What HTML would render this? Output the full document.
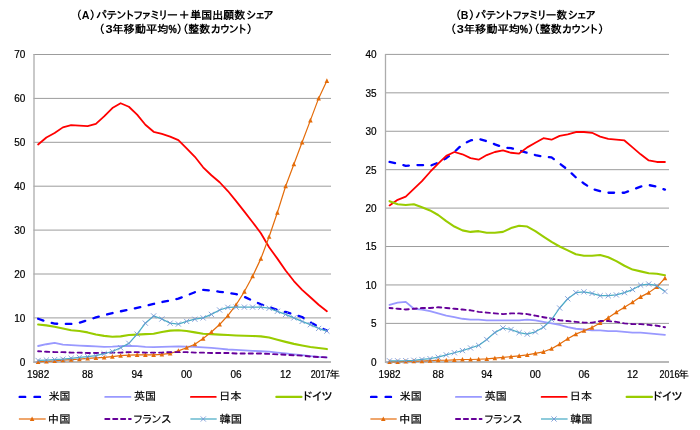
<!DOCTYPE html>
<html lang="ja"><head><meta charset="utf-8"><title>パテントファミリー数シェア</title>
<style>
html,body{margin:0;padding:0;background:#fff;}
body{width:700px;height:430px;overflow:hidden;}
svg{display:block;}
text{font-family:"Liberation Sans","IPAPGothic","IPAGothic","Noto Sans CJK JP",sans-serif;fill:#000;stroke:#000;stroke-width:0.2px;}
.n{font-weight:normal;}
.b{font-weight:bold;stroke:none;}
.p{stroke:#000;stroke-width:0.35px;}
.g{stroke:#9c9c9c;stroke-width:1;fill:none;}
.gv{stroke:#acacac;stroke-width:1.3;fill:none;}
.g0{stroke:#b8b8b8;stroke-width:1.8;fill:none;}
</style></head><body>
<svg width="700" height="430" viewBox="0 0 700 430">
<rect width="700" height="430" fill="#fff"/>
<line x1="33.5" y1="362" x2="331" y2="362" class="g0"/>
<text x="25.4" y="365.7" class="n" font-size="10" text-anchor="end">0</text>
<line x1="33.5" y1="317.9" x2="331" y2="317.9" class="g"/>
<text x="25.4" y="321.8" class="n" font-size="10" text-anchor="end">10</text>
<line x1="33.5" y1="274" x2="331" y2="274" class="g"/>
<text x="25.4" y="277.9" class="n" font-size="10" text-anchor="end">20</text>
<line x1="33.5" y1="230.1" x2="331" y2="230.1" class="g"/>
<text x="25.4" y="234" class="n" font-size="10" text-anchor="end">30</text>
<line x1="33.5" y1="186.2" x2="331" y2="186.2" class="g"/>
<text x="25.4" y="190.1" class="n" font-size="10" text-anchor="end">40</text>
<line x1="33.5" y1="142.3" x2="331" y2="142.3" class="g"/>
<text x="25.4" y="146.2" class="n" font-size="10" text-anchor="end">50</text>
<line x1="33.5" y1="98.4" x2="331" y2="98.4" class="g"/>
<text x="25.4" y="102.3" class="n" font-size="10" text-anchor="end">60</text>
<line x1="33.5" y1="54.5" x2="331" y2="54.5" class="g"/>
<text x="25.4" y="58.4" class="n" font-size="10" text-anchor="end">70</text>
<line x1="34" y1="54" x2="34" y2="362.9" class="gv"/>
<path d="M38.12 318.78L46.38 321.63L54.62 323.61L62.88 324.05L71.12 323.83L79.38 322.73L87.62 320.1L95.88 317.46L104.12 315.27L112.38 313.07L120.62 311.31L128.88 309.78L137.12 307.8L145.38 306.05L153.62 303.85L161.88 302.1L170.12 300.34L178.38 298.58L186.62 295.51L194.88 292.22L203.12 289.8L211.38 290.68L219.62 291.78L227.88 292.88L236.12 294.19L244.38 296.83L252.62 300.78L260.88 304.29L269.12 306.93L277.38 310L285.62 311.97L293.88 314.39L302.12 317.02L310.38 322.29L318.62 326.68L326.88 330.63" fill="none" stroke="#0000ff" style="stroke-width:2.3;stroke-dasharray:5.6 8.6;stroke-dashoffset:0;stroke-linecap:round" stroke-linejoin="round"/>
<path d="M38.12 346L46.38 344.24L54.62 342.92L62.88 344.68L71.12 345.12L79.38 345.56L87.62 346L95.88 346.44L104.12 346.79L112.38 346.65L120.62 346.22L128.88 345.78L137.12 346.22L145.38 346.79L153.62 347.14L161.88 346.87L170.12 346.57L178.38 346.35L186.62 346.57L194.88 346.96L203.12 347.4L211.38 347.97L219.62 348.63L227.88 349.51L236.12 349.95L244.38 350.39L252.62 350.82L260.88 351.26L269.12 351.7L277.38 352.58L285.62 353.46L293.88 354.34L302.12 355.22L310.38 356.09L318.62 356.97L326.88 357.41" fill="none" stroke="#9999ff" style="stroke-width:1.8;stroke-linecap:round" stroke-linejoin="round"/>
<path d="M38.12 144.5L46.38 137.47L54.62 133.08L62.88 127.37L71.12 125.18L79.38 125.62L87.62 126.06L95.88 123.86L104.12 116.4L112.38 108.06L120.62 103.23L128.88 106.74L137.12 114.64L145.38 124.74L153.62 131.76L161.88 133.96L170.12 136.59L178.38 140.11L186.62 148.45L194.88 156.79L203.12 167.32L211.38 175.23L219.62 182.25L227.88 191.03L236.12 201.13L244.38 211.66L252.62 222.2L260.88 233.17L269.12 247.22L277.38 258.63L285.62 270.49L293.88 281.02L302.12 289.8L310.38 297.27L318.62 304.73L326.88 311.31" fill="none" stroke="#ff0000" style="stroke-width:1.8;stroke-linecap:round" stroke-linejoin="round"/>
<path d="M38.12 324.49L46.38 325.36L54.62 326.68L62.88 328.44L71.12 330.19L79.38 331.07L87.62 332.39L95.88 334.58L104.12 335.9L112.38 336.78L120.62 336.34L128.88 335.02L137.12 334.58L145.38 334.14L153.62 333.7L161.88 331.95L170.12 330.63L178.38 330.19L186.62 331.07L194.88 332.39L203.12 333.7L211.38 334.14L219.62 334.58L227.88 335.02L236.12 335.46L244.38 335.81L252.62 335.99L260.88 336.38L269.12 337.57L277.38 339.72L285.62 341.87L293.88 343.89L302.12 345.47L310.38 346.92L318.62 348.06L326.88 349.07" fill="none" stroke="#99cc00" style="stroke-width:2.1;stroke-linecap:round" stroke-linejoin="round"/>
<path d="M38.12 361.8L46.38 361.36L54.62 360.92L62.88 360.04L71.12 359.61L79.38 359.17L87.62 358.29L95.88 357.85L104.12 357.41L112.38 356.53L120.62 355.65L128.88 355.22L137.12 354.78L145.38 354.78L153.62 354.78L161.88 354.34L170.12 353.46L178.38 350.82L186.62 347.75L194.88 344.24L203.12 338.53L211.38 331.95L219.62 324.49L227.88 315.71L236.12 304.73L244.38 291.56L252.62 276.2L260.88 258.63L269.12 236.69L277.38 212.54L285.62 186.2L293.88 164.25L302.12 142.3L310.38 120.35L318.62 98.4L326.88 80.84" fill="none" stroke="#e46c0a" style="stroke-width:1.2" stroke-linejoin="round"/>
<g fill="#e46c0a" stroke="none"><path d="M38.12 359.3L40.42 363.9L35.83 363.9Z"/><path d="M46.38 358.86L48.67 363.46L44.08 363.46Z"/><path d="M54.62 358.42L56.92 363.02L52.33 363.02Z"/><path d="M62.88 357.54L65.17 362.14L60.58 362.14Z"/><path d="M71.12 357.11L73.42 361.71L68.83 361.71Z"/><path d="M79.38 356.67L81.67 361.27L77.08 361.27Z"/><path d="M87.62 355.79L89.92 360.39L85.33 360.39Z"/><path d="M95.88 355.35L98.17 359.95L93.58 359.95Z"/><path d="M104.12 354.91L106.42 359.51L101.83 359.51Z"/><path d="M112.38 354.03L114.67 358.63L110.08 358.63Z"/><path d="M120.62 353.15L122.92 357.75L118.33 357.75Z"/><path d="M128.88 352.72L131.18 357.32L126.58 357.32Z"/><path d="M137.12 352.28L139.43 356.88L134.82 356.88Z"/><path d="M145.38 352.28L147.68 356.88L143.07 356.88Z"/><path d="M153.62 352.28L155.93 356.88L151.32 356.88Z"/><path d="M161.88 351.84L164.18 356.44L159.57 356.44Z"/><path d="M170.12 350.96L172.43 355.56L167.82 355.56Z"/><path d="M178.38 348.32L180.68 352.93L176.07 352.93Z"/><path d="M186.62 345.25L188.93 349.85L184.32 349.85Z"/><path d="M194.88 341.74L197.18 346.34L192.57 346.34Z"/><path d="M203.12 336.03L205.43 340.63L200.82 340.63Z"/><path d="M211.38 329.45L213.68 334.05L209.07 334.05Z"/><path d="M219.62 321.99L221.93 326.59L217.32 326.59Z"/><path d="M227.88 313.21L230.18 317.81L225.57 317.81Z"/><path d="M236.12 302.23L238.43 306.83L233.82 306.83Z"/><path d="M244.38 289.06L246.68 293.66L242.07 293.66Z"/><path d="M252.62 273.7L254.93 278.3L250.32 278.3Z"/><path d="M260.88 256.13L263.18 260.74L258.57 260.74Z"/><path d="M269.12 234.19L271.43 238.78L266.82 238.78Z"/><path d="M277.38 210.04L279.68 214.64L275.07 214.64Z"/><path d="M285.62 183.7L287.93 188.3L283.32 188.3Z"/><path d="M293.88 161.75L296.18 166.35L291.57 166.35Z"/><path d="M302.12 139.8L304.43 144.4L299.82 144.4Z"/><path d="M310.38 117.85L312.68 122.45L308.07 122.45Z"/><path d="M318.62 95.9L320.93 100.5L316.32 100.5Z"/><path d="M326.88 78.34L329.18 82.94L324.57 82.94Z"/></g>
<path d="M38.12 351.26L46.38 351.7L54.62 352.14L62.88 352.14L71.12 352.58L79.38 352.58L87.62 353.02L95.88 353.02L104.12 353.02L112.38 352.58L120.62 352.58L128.88 352.14L137.12 352.14L145.38 352.58L153.62 352.58L161.88 352.58L170.12 352.14L178.38 352.14L186.62 352.14L194.88 352.58L203.12 352.58L211.38 353.02L219.62 353.02L227.88 353.02L236.12 353.46L244.38 353.46L252.62 353.46L260.88 353.46L269.12 353.9L277.38 354.34L285.62 354.78L293.88 355.22L302.12 355.65L310.38 356.53L318.62 356.97L326.88 357.41" fill="none" stroke="#660099" style="stroke-width:1.9;stroke-dasharray:4.2 3.95;stroke-dashoffset:1.2;stroke-linecap:round" stroke-linejoin="round"/>
<path d="M38.12 360.48L46.38 360.04L54.62 359.61L62.88 359.17L71.12 358.29L79.38 357.41L87.62 356.53L95.88 355.65L104.12 353.68L112.38 351.48L120.62 347.75L128.88 343.36L137.12 334.14L145.38 323.17L153.62 315.92L161.88 319L170.12 323.17L178.38 324.05L186.62 321.41L194.88 319.22L203.12 317.9L211.38 314.39L219.62 310L227.88 307.36L236.12 307.14L244.38 307.14L252.62 307.14L260.88 307.14L269.12 308.24L277.38 311.31L285.62 314.39L293.88 317.9L302.12 321.41L310.38 324.7L318.62 328.44L326.88 331.07" fill="none" stroke="#4bacc6" style="stroke-width:1.25" stroke-linejoin="round"/>
<g fill="none" stroke="#7494d4" stroke-width="0.85"><path d="M35.52 357.88L40.73 363.08M35.52 363.08L40.73 357.88"/><path d="M43.77 357.44L48.98 362.64M43.77 362.64L48.98 357.44"/><path d="M52.02 357L57.23 362.21M52.02 362.21L57.23 357"/><path d="M60.27 356.57L65.47 361.77M60.27 361.77L65.47 356.57"/><path d="M68.53 355.69L73.72 360.89M68.53 360.89L73.72 355.69"/><path d="M76.78 354.81L81.97 360.01M76.78 360.01L81.97 354.81"/><path d="M85.03 353.93L90.22 359.13M85.03 359.13L90.22 353.93"/><path d="M93.28 353.05L98.47 358.25M93.28 358.25L98.47 353.05"/><path d="M101.53 351.08L106.72 356.28M101.53 356.28L106.72 351.08"/><path d="M109.78 348.88L114.97 354.08M109.78 354.08L114.97 348.88"/><path d="M118.03 345.15L123.22 350.35M118.03 350.35L123.22 345.15"/><path d="M126.28 340.76L131.47 345.96M126.28 345.96L131.47 340.76"/><path d="M134.53 331.54L139.72 336.74M134.53 336.74L139.72 331.54"/><path d="M142.78 320.57L147.97 325.77M142.78 325.77L147.97 320.57"/><path d="M151.03 313.32L156.22 318.52M151.03 318.52L156.22 313.32"/><path d="M159.28 316.4L164.47 321.6M159.28 321.6L164.47 316.4"/><path d="M167.53 320.57L172.72 325.77M167.53 325.77L172.72 320.57"/><path d="M175.78 321.45L180.97 326.65M175.78 326.65L180.97 321.45"/><path d="M184.03 318.81L189.22 324.01M184.03 324.01L189.22 318.81"/><path d="M192.28 316.62L197.47 321.82M192.28 321.82L197.47 316.62"/><path d="M200.53 315.3L205.72 320.5M200.53 320.5L205.72 315.3"/><path d="M208.78 311.79L213.97 316.99M208.78 316.99L213.97 311.79"/><path d="M217.03 307.4L222.22 312.6M217.03 312.6L222.22 307.4"/><path d="M225.28 304.76L230.47 309.96M225.28 309.96L230.47 304.76"/><path d="M233.53 304.54L238.72 309.74M233.53 309.74L238.72 304.54"/><path d="M241.78 304.54L246.97 309.74M241.78 309.74L246.97 304.54"/><path d="M250.03 304.54L255.22 309.74M250.03 309.74L255.22 304.54"/><path d="M258.27 304.54L263.48 309.74M258.27 309.74L263.48 304.54"/><path d="M266.52 305.64L271.73 310.84M266.52 310.84L271.73 305.64"/><path d="M274.77 308.71L279.98 313.92M274.77 313.92L279.98 308.71"/><path d="M283.02 311.79L288.23 316.99M283.02 316.99L288.23 311.79"/><path d="M291.27 315.3L296.48 320.5M291.27 320.5L296.48 315.3"/><path d="M299.52 318.81L304.73 324.01M299.52 324.01L304.73 318.81"/><path d="M307.77 322.1L312.98 327.3M307.77 327.3L312.98 322.1"/><path d="M316.02 325.84L321.23 331.04M316.02 331.04L321.23 325.84"/><path d="M324.27 328.47L329.48 333.67M324.27 333.67L329.48 328.47"/></g>
<text x="38.12" y="378" class="n" font-size="10" text-anchor="middle">1982</text>
<text x="87.62" y="378" class="n" font-size="10" text-anchor="middle">88</text>
<text x="137.12" y="378" class="n" font-size="10" text-anchor="middle">94</text>
<text x="186.62" y="378" class="n" font-size="10" text-anchor="middle">00</text>
<text x="236.12" y="378" class="n" font-size="10" text-anchor="middle">06</text>
<text x="285.62" y="378" class="n" font-size="10" text-anchor="middle">12</text>
<text><tspan x="310.66" y="378" class="n" font-size="10" textLength="19.79" lengthAdjust="spacingAndGlyphs">2017</tspan><tspan x="329.53" y="378.4" class="n" font-size="10" textLength="10.29" lengthAdjust="spacingAndGlyphs">年</tspan></text>
<line x1="385" y1="362" x2="669" y2="362" class="g0"/>
<text x="376.5" y="365.7" class="n" font-size="10" text-anchor="end">0</text>
<line x1="385" y1="323.38" x2="669" y2="323.38" class="g"/>
<text x="376.5" y="327.27" class="n" font-size="10" text-anchor="end">5</text>
<line x1="385" y1="284.95" x2="669" y2="284.95" class="g"/>
<text x="376.5" y="288.85" class="n" font-size="10" text-anchor="end">10</text>
<line x1="385" y1="246.53" x2="669" y2="246.53" class="g"/>
<text x="376.5" y="250.43" class="n" font-size="10" text-anchor="end">15</text>
<line x1="385" y1="208.1" x2="669" y2="208.1" class="g"/>
<text x="376.5" y="212" class="n" font-size="10" text-anchor="end">20</text>
<line x1="385" y1="169.68" x2="669" y2="169.68" class="g"/>
<text x="376.5" y="173.58" class="n" font-size="10" text-anchor="end">25</text>
<line x1="385" y1="131.25" x2="669" y2="131.25" class="g"/>
<text x="376.5" y="135.15" class="n" font-size="10" text-anchor="end">30</text>
<line x1="385" y1="92.83" x2="669" y2="92.83" class="g"/>
<text x="376.5" y="96.73" class="n" font-size="10" text-anchor="end">35</text>
<line x1="385" y1="54.4" x2="669" y2="54.4" class="g"/>
<text x="376.5" y="58.3" class="n" font-size="10" text-anchor="end">40</text>
<line x1="385.5" y1="53.9" x2="385.5" y2="362.9" class="gv"/>
<path d="M389.55 161.99L397.65 163.53L405.75 165.83L413.85 165.06L421.95 165.06L430.05 165.83L438.15 162.76L446.25 158.15L454.35 152L462.45 144.31L470.55 140.47L478.65 138.94L486.75 141.24L494.85 144.31L502.95 147.39L511.05 148.16L519.15 150.46L527.25 152.77L535.35 155.07L543.45 156.61L551.55 157.38L559.65 163.53L567.75 169.68L575.85 177.36L583.95 183.51L592.05 188.89L600.15 191.19L608.25 192.73L616.35 192.73L624.45 192.73L632.55 189.66L640.65 186.58L648.75 185.05L656.85 186.58L664.95 189.66" fill="none" stroke="#0000ff" style="stroke-width:2.3;stroke-dasharray:5.6 8.6;stroke-dashoffset:0;stroke-linecap:round" stroke-linejoin="round"/>
<path d="M389.55 304.93L397.65 302.63L405.75 301.86L413.85 308.77L421.95 309.54L430.05 311.08L438.15 313.38L446.25 315.69L454.35 317.23L462.45 318.76L470.55 319.53L478.65 319.53L486.75 320.3L494.85 320.3L502.95 320.3L511.05 320.3L519.15 320.3L527.25 319.53L535.35 320.3L543.45 321.84L551.55 323.38L559.65 324.91L567.75 327.22L575.85 328.75L583.95 329.52L592.05 330.29L600.15 330.29L608.25 331.06L616.35 331.06L624.45 331.83L632.55 332.6L640.65 332.6L648.75 333.37L656.85 334.13L664.95 334.9" fill="none" stroke="#9999ff" style="stroke-width:1.8;stroke-linecap:round" stroke-linejoin="round"/>
<path d="M389.55 205.41L397.65 199.8L405.75 196.57L413.85 188.89L421.95 181.2L430.05 171.98L438.15 163.53L446.25 155.84L454.35 152L462.45 154.31L470.55 158.15L478.65 159.68L486.75 155.07L494.85 152L502.95 150.46L511.05 152.77L519.15 153.54L527.25 147.39L535.35 142.78L543.45 138.17L551.55 139.7L559.65 135.86L567.75 134.32L575.85 132.02L583.95 132.02L592.05 132.79L600.15 136.63L608.25 138.94L616.35 139.7L624.45 140.47L632.55 147.39L640.65 154.31L648.75 160.45L656.85 161.99L664.95 161.99" fill="none" stroke="#ff0000" style="stroke-width:1.8;stroke-linecap:round" stroke-linejoin="round"/>
<path d="M389.55 201.18L397.65 204.26L405.75 205.03L413.85 204.26L421.95 207.33L430.05 210.41L438.15 215.02L446.25 221.16L454.35 226.54L462.45 230.39L470.55 231.92L478.65 231.16L486.75 232.69L494.85 232.69L502.95 231.92L511.05 228.08L519.15 225.78L527.25 226.54L535.35 231.16L543.45 236.53L551.55 241.91L559.65 246.53L567.75 250.37L575.85 254.21L583.95 255.75L592.05 255.75L600.15 254.98L608.25 257.28L616.35 261.13L624.45 265.74L632.55 269.58L640.65 271.35L648.75 273.19L656.85 273.81L664.95 275.19" fill="none" stroke="#99cc00" style="stroke-width:2.1;stroke-linecap:round" stroke-linejoin="round"/>
<path d="M389.55 361.8L397.65 361.8L405.75 361.42L413.85 361.03L421.95 361.03L430.05 360.65L438.15 360.26L446.25 360.26L454.35 359.88L462.45 359.49L470.55 359.49L478.65 359.26L486.75 358.88L494.85 358.19L502.95 357.42L511.05 356.65L519.15 355.81L527.25 354.88L535.35 353.35L543.45 351.81L551.55 348.74L559.65 344.12L567.75 338.75L575.85 334.13L583.95 330.68L592.05 327.6L600.15 322.99L608.25 317.84L616.35 312.23L624.45 307.24L632.55 302.24L640.65 296.86L648.75 292.63L656.85 287.02L664.95 278.03" fill="none" stroke="#e46c0a" style="stroke-width:1.2" stroke-linejoin="round"/>
<g fill="#e46c0a" stroke="none"><path d="M389.55 359.3L391.85 363.9L387.25 363.9Z"/><path d="M397.65 359.3L399.95 363.9L395.35 363.9Z"/><path d="M405.75 358.92L408.05 363.52L403.45 363.52Z"/><path d="M413.85 358.53L416.15 363.13L411.55 363.13Z"/><path d="M421.95 358.53L424.25 363.13L419.65 363.13Z"/><path d="M430.05 358.15L432.35 362.75L427.75 362.75Z"/><path d="M438.15 357.76L440.45 362.36L435.85 362.36Z"/><path d="M446.25 357.76L448.55 362.36L443.95 362.36Z"/><path d="M454.35 357.38L456.65 361.98L452.05 361.98Z"/><path d="M462.45 356.99L464.75 361.59L460.15 361.59Z"/><path d="M470.55 356.99L472.85 361.59L468.25 361.59Z"/><path d="M478.65 356.76L480.95 361.36L476.35 361.36Z"/><path d="M486.75 356.38L489.05 360.98L484.45 360.98Z"/><path d="M494.85 355.69L497.15 360.29L492.55 360.29Z"/><path d="M502.95 354.92L505.25 359.52L500.65 359.52Z"/><path d="M511.05 354.15L513.35 358.75L508.75 358.75Z"/><path d="M519.15 353.31L521.45 357.91L516.85 357.91Z"/><path d="M527.25 352.38L529.55 356.98L524.95 356.98Z"/><path d="M535.35 350.85L537.65 355.45L533.05 355.45Z"/><path d="M543.45 349.31L545.75 353.91L541.15 353.91Z"/><path d="M551.55 346.24L553.85 350.84L549.25 350.84Z"/><path d="M559.65 341.62L561.95 346.22L557.35 346.22Z"/><path d="M567.75 336.25L570.05 340.85L565.45 340.85Z"/><path d="M575.85 331.63L578.15 336.23L573.55 336.23Z"/><path d="M583.95 328.18L586.25 332.78L581.65 332.78Z"/><path d="M592.05 325.1L594.35 329.7L589.75 329.7Z"/><path d="M600.15 320.49L602.45 325.09L597.85 325.09Z"/><path d="M608.25 315.34L610.55 319.94L605.95 319.94Z"/><path d="M616.35 309.73L618.65 314.33L614.05 314.33Z"/><path d="M624.45 304.74L626.75 309.34L622.15 309.34Z"/><path d="M632.55 299.74L634.85 304.34L630.25 304.34Z"/><path d="M640.65 294.36L642.95 298.96L638.35 298.96Z"/><path d="M648.75 290.13L651.05 294.74L646.45 294.74Z"/><path d="M656.85 284.52L659.15 289.12L654.55 289.12Z"/><path d="M664.95 275.53L667.25 280.13L662.65 280.13Z"/></g>
<path d="M389.55 308L397.65 308.77L405.75 309.54L413.85 308.77L421.95 308L430.05 308L438.15 307.24L446.25 308L454.35 308.77L462.45 309.54L470.55 310.31L478.65 311.85L486.75 312.62L494.85 313.38L502.95 314.15L511.05 313.38L519.15 313.38L527.25 314.15L535.35 315.69L543.45 317.23L551.55 318.76L559.65 320.3L567.75 321.07L575.85 321.84L583.95 322.61L592.05 322.61L600.15 321.07L608.25 321.07L616.35 321.84L624.45 323.38L632.55 324.14L640.65 324.14L648.75 324.91L656.85 325.68L664.95 327.22" fill="none" stroke="#660099" style="stroke-width:1.9;stroke-dasharray:4.2 3.95;stroke-dashoffset:1.2;stroke-linecap:round" stroke-linejoin="round"/>
<path d="M389.55 360.8L397.65 360.8L405.75 360.65L413.85 360.26L421.95 359.49L430.05 358.65L438.15 357.19L446.25 354.88L454.35 352.73L462.45 350.58L470.55 347.97L478.65 345.43L486.75 339.51L494.85 332.6L502.95 327.99L511.05 329.52L519.15 332.6L527.25 334.13L535.35 331.83L543.45 327.22L551.55 319.53L559.65 308L567.75 298.78L575.85 292.63L583.95 291.87L592.05 293.4L600.15 295.71L608.25 295.71L616.35 294.94L624.45 292.63L632.55 289.56L640.65 285.18L648.75 284.03L656.85 285.72L664.95 291.48" fill="none" stroke="#4bacc6" style="stroke-width:1.25" stroke-linejoin="round"/>
<g fill="none" stroke="#7494d4" stroke-width="0.85"><path d="M386.95 358.2L392.15 363.4M386.95 363.4L392.15 358.2"/><path d="M395.05 358.2L400.25 363.4M395.05 363.4L400.25 358.2"/><path d="M403.15 358.05L408.35 363.25M403.15 363.25L408.35 358.05"/><path d="M411.25 357.66L416.45 362.86M411.25 362.86L416.45 357.66"/><path d="M419.35 356.89L424.55 362.09M419.35 362.09L424.55 356.89"/><path d="M427.45 356.05L432.65 361.25M427.45 361.25L432.65 356.05"/><path d="M435.55 354.59L440.75 359.79M435.55 359.79L440.75 354.59"/><path d="M443.65 352.28L448.85 357.48M443.65 357.48L448.85 352.28"/><path d="M451.75 350.13L456.95 355.33M451.75 355.33L456.95 350.13"/><path d="M459.85 347.98L465.05 353.18M459.85 353.18L465.05 347.98"/><path d="M467.95 345.37L473.15 350.57M467.95 350.57L473.15 345.37"/><path d="M476.05 342.83L481.25 348.03M476.05 348.03L481.25 342.83"/><path d="M484.15 336.91L489.35 342.11M484.15 342.11L489.35 336.91"/><path d="M492.25 330L497.45 335.2M492.25 335.2L497.45 330"/><path d="M500.35 325.39L505.55 330.59M500.35 330.59L505.55 325.39"/><path d="M508.45 326.92L513.65 332.12M508.45 332.12L513.65 326.92"/><path d="M516.55 330L521.75 335.2M516.55 335.2L521.75 330"/><path d="M524.65 331.53L529.85 336.73M524.65 336.73L529.85 331.53"/><path d="M532.75 329.23L537.95 334.43M532.75 334.43L537.95 329.23"/><path d="M540.85 324.62L546.05 329.82M540.85 329.82L546.05 324.62"/><path d="M548.95 316.93L554.15 322.13M548.95 322.13L554.15 316.93"/><path d="M557.05 305.4L562.25 310.61M557.05 310.61L562.25 305.4"/><path d="M565.15 296.18L570.35 301.38M565.15 301.38L570.35 296.18"/><path d="M573.25 290.03L578.45 295.24M573.25 295.24L578.45 290.03"/><path d="M581.35 289.27L586.55 294.47M581.35 294.47L586.55 289.27"/><path d="M589.45 290.8L594.65 296M589.45 296L594.65 290.8"/><path d="M597.55 293.11L602.75 298.31M597.55 298.31L602.75 293.11"/><path d="M605.65 293.11L610.85 298.31M605.65 298.31L610.85 293.11"/><path d="M613.75 292.34L618.95 297.54M613.75 297.54L618.95 292.34"/><path d="M621.85 290.03L627.05 295.24M621.85 295.24L627.05 290.03"/><path d="M629.95 286.96L635.15 292.16M629.95 292.16L635.15 286.96"/><path d="M638.05 282.58L643.25 287.78M638.05 287.78L643.25 282.58"/><path d="M646.15 281.43L651.35 286.63M646.15 286.63L651.35 281.43"/><path d="M654.25 283.12L659.45 288.32M654.25 288.32L659.45 283.12"/><path d="M662.35 288.88L667.55 294.08M662.35 294.08L667.55 288.88"/></g>
<text x="389.55" y="378" class="n" font-size="10" text-anchor="middle">1982</text>
<text x="438.15" y="378" class="n" font-size="10" text-anchor="middle">88</text>
<text x="486.75" y="378" class="n" font-size="10" text-anchor="middle">94</text>
<text x="535.35" y="378" class="n" font-size="10" text-anchor="middle">00</text>
<text x="583.95" y="378" class="n" font-size="10" text-anchor="middle">06</text>
<text x="632.55" y="378" class="n" font-size="10" text-anchor="middle">12</text>
<text><tspan x="659.56" y="378" class="n" font-size="10" textLength="19.79" lengthAdjust="spacingAndGlyphs">2016</tspan><tspan x="678.43" y="378.4" class="n" font-size="10" textLength="10.29" lengthAdjust="spacingAndGlyphs">年</tspan></text>
<text><tspan x="76.03" y="18.9" class="b" font-size="11" textLength="5.66" lengthAdjust="spacingAndGlyphs">（</tspan><tspan x="81.86" y="18.9" class="b" font-size="11" textLength="7.76" lengthAdjust="spacingAndGlyphs">A</tspan><tspan x="89.63" y="18.9" class="b" font-size="11" textLength="6.02" lengthAdjust="spacingAndGlyphs">）</tspan><tspan x="96.15" y="18.9" class="b" font-size="11" textLength="81.3" lengthAdjust="spacingAndGlyphs">パテントファミリー</tspan><tspan x="179.48" y="18.9" class="b" font-size="11" textLength="9.37" lengthAdjust="spacingAndGlyphs">＋</tspan><tspan x="190.33" y="18.9" class="b" font-size="11" textLength="54.8" lengthAdjust="spacingAndGlyphs">単国出願数</tspan><tspan x="246.62" y="18.9" class="b" font-size="11" textLength="26.69" lengthAdjust="spacingAndGlyphs">シェア</tspan></text>
<text><tspan x="98.78" y="33.1" class="b" font-size="11" textLength="5.82" lengthAdjust="spacingAndGlyphs">（</tspan><tspan x="105.41" y="33.1" class="b" font-size="11" textLength="7.13" lengthAdjust="spacingAndGlyphs">3</tspan><tspan x="112.39" y="33.1" class="b" font-size="11" textLength="56.07" lengthAdjust="spacingAndGlyphs">年移動平均</tspan><tspan x="168.39" y="33.1" class="b p" font-size="11" textLength="8.25" lengthAdjust="spacingAndGlyphs">%</tspan><tspan x="176.73" y="33.1" class="b" font-size="11" textLength="6.02" lengthAdjust="spacingAndGlyphs">）</tspan><tspan x="182.38" y="33.1" class="b" font-size="11" textLength="5.82" lengthAdjust="spacingAndGlyphs">（</tspan><tspan x="188.35" y="33.1" class="b" font-size="11" textLength="21.77" lengthAdjust="spacingAndGlyphs">整数</tspan><tspan x="210.91" y="33.1" class="b" font-size="11" textLength="35.38" lengthAdjust="spacingAndGlyphs">カウント</tspan><tspan x="246.73" y="33.1" class="b" font-size="11" textLength="6.02" lengthAdjust="spacingAndGlyphs">）</tspan></text>
<text><tspan x="455.18" y="18.9" class="b" font-size="11" textLength="5.82" lengthAdjust="spacingAndGlyphs">（</tspan><tspan x="460.68" y="18.9" class="b" font-size="11" textLength="7.66" lengthAdjust="spacingAndGlyphs">B</tspan><tspan x="468.93" y="18.9" class="b" font-size="11" textLength="6.02" lengthAdjust="spacingAndGlyphs">）</tspan><tspan x="475.45" y="18.9" class="b" font-size="11" textLength="80.69" lengthAdjust="spacingAndGlyphs">パテントファミリー</tspan><tspan x="556.56" y="18.9" class="b" font-size="11" textLength="10.56" lengthAdjust="spacingAndGlyphs">数</tspan><tspan x="568.11" y="18.9" class="b" font-size="11" textLength="27.21" lengthAdjust="spacingAndGlyphs">シェア</tspan></text>
<text><tspan x="450.18" y="33.1" class="b" font-size="11" textLength="5.82" lengthAdjust="spacingAndGlyphs">（</tspan><tspan x="456.81" y="33.1" class="b" font-size="11" textLength="7.13" lengthAdjust="spacingAndGlyphs">3</tspan><tspan x="463.79" y="33.1" class="b" font-size="11" textLength="56.07" lengthAdjust="spacingAndGlyphs">年移動平均</tspan><tspan x="519.79" y="33.1" class="b p" font-size="11" textLength="8.25" lengthAdjust="spacingAndGlyphs">%</tspan><tspan x="528.13" y="33.1" class="b" font-size="11" textLength="6.02" lengthAdjust="spacingAndGlyphs">）</tspan><tspan x="533.78" y="33.1" class="b" font-size="11" textLength="5.82" lengthAdjust="spacingAndGlyphs">（</tspan><tspan x="539.75" y="33.1" class="b" font-size="11" textLength="21.77" lengthAdjust="spacingAndGlyphs">整数</tspan><tspan x="562.31" y="33.1" class="b" font-size="11" textLength="35.38" lengthAdjust="spacingAndGlyphs">カウント</tspan><tspan x="598.13" y="33.1" class="b" font-size="11" textLength="6.02" lengthAdjust="spacingAndGlyphs">）</tspan></text>
<path d="M19.7 396.9H25.2M34.5 396.9H40" fill="none" stroke="#0000ff" stroke-width="2.4" stroke-linecap="round"/>
<text x="48.68" y="400.3" class="n" font-size="11" textLength="21.73" lengthAdjust="spacingAndGlyphs">米国</text>
<path d="M105.2 396.9H130.5" fill="none" stroke="#9999ff" style="stroke-width:1.8;stroke-linecap:round"/>
<text x="134.1" y="400.3" class="n" font-size="11" textLength="22.03" lengthAdjust="spacingAndGlyphs">英国</text>
<path d="M190.9 396.9H215.8" fill="none" stroke="#ff0000" style="stroke-width:1.8;stroke-linecap:round"/>
<text x="218.94" y="400.3" class="n" font-size="11" textLength="22.71" lengthAdjust="spacingAndGlyphs">日本</text>
<path d="M276.3 396.9H301.5" fill="none" stroke="#99cc00" style="stroke-width:2.1;stroke-linecap:round"/>
<text x="302.72" y="400.3" class="n" font-size="11" textLength="29.52" lengthAdjust="spacingAndGlyphs">ドイツ</text>
<path d="M18.9 419H45.7" fill="none" stroke="#e46c0a" style="stroke-width:1.2"/>
<g fill="#e46c0a"><path d="M32.1 416.5L34.4 421.1L29.8 421.1Z"/></g>
<text x="47.89" y="422.9" class="n" font-size="11" textLength="22.56" lengthAdjust="spacingAndGlyphs">中国</text>
<path d="M105.25 419H130.8" fill="none" stroke="#660099" style="stroke-width:1.9;stroke-dasharray:4.2 3.7;stroke-linecap:round"/>
<text x="133.54" y="422.9" class="n" font-size="11" textLength="37.8" lengthAdjust="spacingAndGlyphs">フランス</text>
<path d="M190.4 419H216.7" fill="none" stroke="#4bacc6" style="stroke-width:1.25"/>
<g fill="none" stroke="#7494d4" stroke-width="0.85"><path d="M200.7 416.4L205.9 421.6M200.7 421.6L205.9 416.4"/></g>
<text x="219.48" y="422.9" class="n" font-size="11" textLength="22.67" lengthAdjust="spacingAndGlyphs">韓国</text>
<path d="M371.1 396.9H376.47M385.63 396.9H391" fill="none" stroke="#0000ff" stroke-width="2.4" stroke-linecap="round"/>
<text x="399.77" y="400.3" class="n" font-size="11" textLength="22.05" lengthAdjust="spacingAndGlyphs">米国</text>
<path d="M455.9 396.9H481.2" fill="none" stroke="#9999ff" style="stroke-width:1.8;stroke-linecap:round"/>
<text x="484.8" y="400.3" class="n" font-size="11" textLength="22.03" lengthAdjust="spacingAndGlyphs">英国</text>
<path d="M541.6 396.9H566.7" fill="none" stroke="#ff0000" style="stroke-width:1.8;stroke-linecap:round"/>
<text x="569.89" y="400.3" class="n" font-size="11" textLength="22.14" lengthAdjust="spacingAndGlyphs">日本</text>
<path d="M626.6 396.9H652" fill="none" stroke="#99cc00" style="stroke-width:2.1;stroke-linecap:round"/>
<text x="652.72" y="400.3" class="n" font-size="11" textLength="29.52" lengthAdjust="spacingAndGlyphs">ドイツ</text>
<path d="M370.4 419H396.7" fill="none" stroke="#e46c0a" style="stroke-width:1.2"/>
<g fill="#e46c0a"><path d="M383.3 416.5L385.6 421.1L381 421.1Z"/></g>
<text x="398.97" y="422.9" class="n" font-size="11" textLength="22.9" lengthAdjust="spacingAndGlyphs">中国</text>
<path d="M455.95 419H481.6" fill="none" stroke="#660099" style="stroke-width:1.9;stroke-dasharray:4.2 3.7;stroke-linecap:round"/>
<text x="484.55" y="422.9" class="n" font-size="11" textLength="37.49" lengthAdjust="spacingAndGlyphs">フランス</text>
<path d="M541 419H567.6" fill="none" stroke="#4bacc6" style="stroke-width:1.25"/>
<g fill="none" stroke="#7494d4" stroke-width="0.85"><path d="M551.4 416.4L556.6 421.6M551.4 421.6L556.6 416.4"/></g>
<text x="570.19" y="422.9" class="n" font-size="11" textLength="22.35" lengthAdjust="spacingAndGlyphs">韓国</text>
</svg>
</body></html>
